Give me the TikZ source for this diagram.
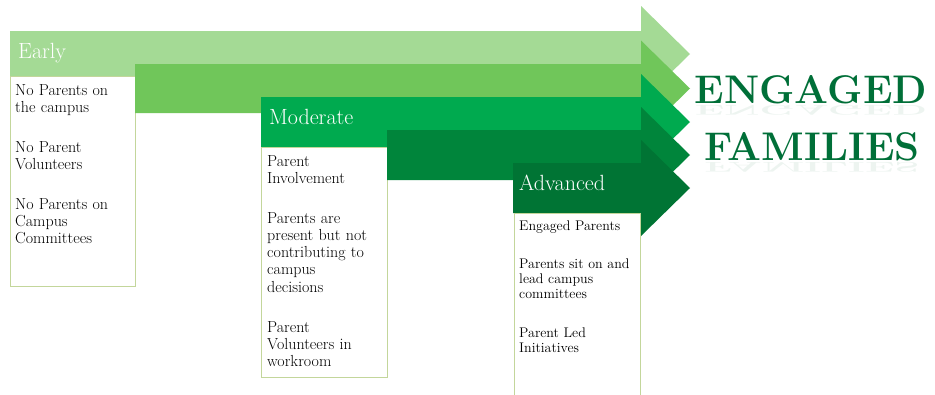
\documentclass[tikz,border=0pt]{standalone}
\usepackage{fontspec}
\definecolor{arA}{HTML}{A4DA95}
\definecolor{arB}{HTML}{70C65A}
\definecolor{arC}{HTML}{00AA4F}
\definecolor{arD}{HTML}{00853B}
\definecolor{arE}{HTML}{007434}
\definecolor{titlegreen}{HTML}{006F38}
\definecolor{boxline}{HTML}{C3D69B}
\newcommand\stagearrow[5]{%
  \fill[#5] (#1,#2) -- (641,#2) -- (641,#4-48) -- (690,#4) -- (641,#4+48) -- (641,#3) -- (#1,#3) -- cycle;}
\begin{document}
\begin{tikzpicture}[x=1pt,y=-1pt,
  hdr/.style={anchor=base west, inner sep=0pt, text=white, font=\fontsize{22}{24}\selectfont},
  body/.style={anchor=base west, inner sep=0pt, align=left, text width=120pt, font=\fontsize{16}{17.2}\selectfont},
  bodysm/.style={anchor=base west, inner sep=0pt, align=left, text width=120pt, font=\fontsize{14}{15}\selectfont},
  card/.style={fill=white, draw=boxline, line width=0.9pt},
  titletext/.style={inner sep=0pt, anchor=base, text=titlegreen, font=\fontsize{40}{40}\selectfont\bfseries},
  refl/.style={inner sep=0pt, anchor=base, text=titlegreen, text opacity=0.07, yscale=-0.35, transform shape, font=\fontsize{40}{40}\selectfont\bfseries}
]
\useasboundingbox (0,0) rectangle (935,394);
\clip (0,0) rectangle (935,394);
\fill[white] (0,0) rectangle (935,394);

% Early
\stagearrow{10}{31}{76}{54}{arA}
\draw[card] (10,76) rectangle (135,286);
\node[hdr] (early) at (18,58) {Early};
\node[body] (earlytxt) at (15,95) {No Parents on\\the campus\\[22.8pt]No Parent\\Volunteers\\[22.8pt]No Parents on\\Campus\\Committees};

% second arrow
\stagearrow{135}{64}{113}{88.5}{arB}

% Moderate
\stagearrow{261}{97}{147}{122}{arC}
\draw[card] (261,147) rectangle (387,377);
\node[hdr] (moderate) at (269,124) {Moderate};
\node[body] (modtxt) at (267,166) {Parent\\Involvement\\[22.8pt]Parents are\\present but not\\contributing to\\campus\\decisions\\[22.8pt]Parent\\Volunteers in\\workroom};

% fourth arrow
\stagearrow{387}{130}{180}{155}{arD}

% Advanced
\stagearrow{513}{163}{213}{188}{arE}
\draw[card] (514,400) -- (514,213) -- (640,213) -- (640,400);
\fill[white] (514.5,213.5) rectangle (639.5,400);
\node[hdr] (advanced) at (519,190) {Advanced};
\node[bodysm] (advtxt) at (519,230) {Engaged Parents\\[23pt]Parents sit on and\\lead campus\\committees\\[24pt]Parent Led\\Initiatives};

% Title
\node[refl] (engrefl) at (811,105) {ENGAGED};
\node[refl] (famrefl) at (812,162) {FAMILIES};
\node[titletext] (engaged) at (811,103) {ENGAGED};
\node[titletext] (families) at (812,160) {FAMILIES};
\end{tikzpicture}
\end{document}
